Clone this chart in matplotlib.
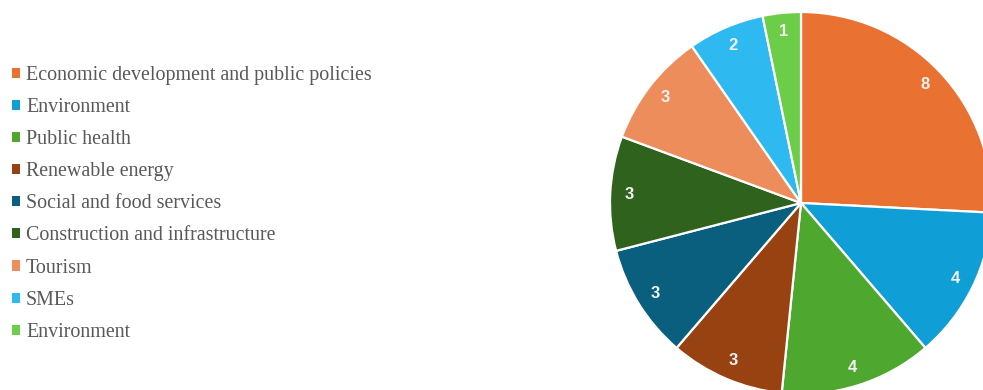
import matplotlib
matplotlib.use("Agg")
import matplotlib.pyplot as plt

categories = [
    "Economic development and public policies",
    "Environment",
    "Public health",
    "Renewable energy",
    "Social and food services",
    "Construction and infrastructure",
    "Tourism",
    "SMEs",
    "Environment",
]
counts = [8, 4, 4, 3, 3, 3, 3, 2, 1]
colors = ["#E97132", "#0F9ED5", "#4EA72E", "#984212", "#0A5E7E",
          "#2F621D", "#ED8D5C", "#2EBAF0", "#6BCD48"]

W, H = 983, 390
fig = plt.figure(figsize=(W / 100, H / 100), dpi=100)

# pie placed with its centre near the right edge; parts run off the canvas
cx, cy, r = 801, 203, 191
ax = fig.add_axes([(cx - r) / W, (H - cy - r) / H, 2 * r / W, 2 * r / H])
wedges, texts = ax.pie(
    counts, colors=colors, startangle=90, counterclock=False,
    labels=[str(v) for v in counts], labeldistance=0.9,
    wedgeprops=dict(edgecolor="white", linewidth=1.6),
    textprops=dict(color="#F2F2F2", fontsize=12, fontweight="bold",
                   family="Liberation Sans", ha="center", va="center"),
)
ax.set_xlim(-1, 1)
ax.set_ylim(-1, 1)
ax.set_aspect("equal")
ax.axis("off")

fs = 14.4
leg = fig.legend(
    wedges, categories, loc="upper left",
    frameon=False, prop=dict(family="Liberation Serif", size=fs),
    handlelength=0.4, handleheight=0.4, handletextpad=0.3,
    labelspacing=0.655, borderaxespad=0, borderpad=0,
)
for t in leg.get_texts():
    t.set_color("#595959")
for h in leg.legend_handles:
    h.set_edgecolor("none")
leg.set_bbox_to_anchor((12 / W, 1 - 66 / H), transform=fig.transFigure)

fig.savefig("out.png", dpi=100)
